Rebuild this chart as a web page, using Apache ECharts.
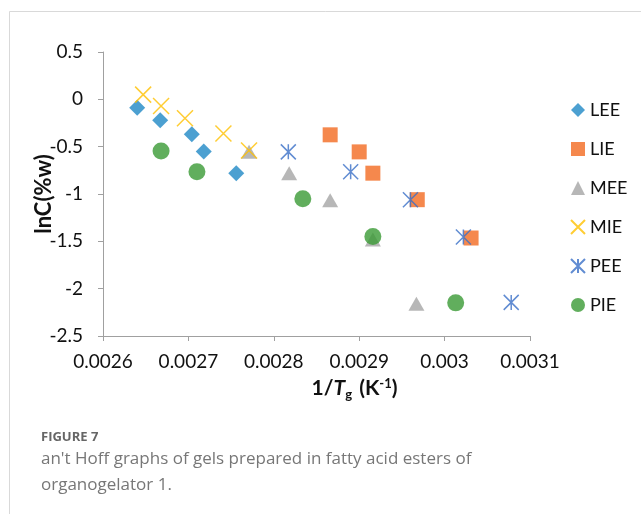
<!DOCTYPE html>
<html>
<head>
<meta charset="utf-8">
<script src="https://cdn.jsdelivr.net/npm/echarts@6/dist/echarts.min.js"></script>
<style>
html,body{margin:0;padding:0;background:#fff;}
#chart{width:641px;height:514px;}
</style>
</head>
<body>
<div id="chart"></div>
<script>
// Data
const seriesNames = ['LEE', 'LIE', 'MEE', 'MIE', 'PEE', 'PIE'];
const LEE_x = [0.00264, 0.002667, 0.002704, 0.002718, 0.002756];
const LEE_y = [-0.09, -0.22, -0.37, -0.55, -0.78];
const LIE_x = [0.002866, 0.0029, 0.002916, 0.002968, 0.003031];
const LIE_y = [-0.375, -0.555, -0.78, -1.06, -1.465];
const MEE_x = [0.002771, 0.002818, 0.002866, 0.002916, 0.002967];
const MEE_y = [-0.555, -0.78, -1.065, -1.48, -2.16];
const MIE_x = [0.002647, 0.002668, 0.002696, 0.002741, 0.002771];
const MIE_y = [0.05, -0.07, -0.2, -0.36, -0.54];
const PEE_x = [0.002817, 0.00289, 0.00296, 0.003022, 0.003078];
const PEE_y = [-0.555, -0.765, -1.06, -1.455, -2.145];
const PIE_x = [0.002668, 0.00271, 0.002834, 0.002916, 0.003013];
const PIE_y = [-0.545, -0.765, -1.05, -1.45, -2.15];
const xTicks = [0.0026, 0.0027, 0.0028, 0.0029, 0.003, 0.0031];
const yTicks = [-2.5, -2, -1.5, -1, -0.5, 0, 0.5];
const captionTitle = 'FIGURE 7';
const captionLines = ["an't Hoff graphs of gels prepared in fatty acid esters of", 'organogelator 1.'];

function pairs(xs, ys) { return xs.map((x, i) => [x, ys[i]]); }
const allX = [LEE_x, LIE_x, MEE_x, MIE_x, PEE_x, PIE_x];
const allY = [LEE_y, LIE_y, MEE_y, MIE_y, PEE_y, PIE_y];

const styles = {
  LEE: { symbol: 'diamond', symbolSize: 16, itemStyle: { color: '#1f88c6' } },
  LIE: { symbol: 'rect', symbolSize: 15, itemStyle: { color: '#f26a21' } },
  MEE: { symbol: 'triangle', symbolSize: [16, 14], itemStyle: { color: '#a5a5a5' } },
  MIE: { symbol: 'path://M0,0L16,16M16,0L0,16', symbolSize: 16, itemStyle: { color: 'rgba(0,0,0,0)', borderColor: '#ffc000', borderWidth: 1.5 } },
  PEE: { symbol: 'path://M0,0L14,14M14,0L0,14M7,0L7,14', symbolSize: 15, itemStyle: { color: 'rgba(0,0,0,0)', borderColor: '#3a6fc7', borderWidth: 1.5 } },
  PIE: { symbol: 'circle', symbolSize: 17, itemStyle: { color: '#3a9a34' } }
};

const FONT = 'Lato';
const chart = echarts.init(document.getElementById('chart'));
chart.setOption({
  animation: false,
  backgroundColor: '#fff',
  grid: { left: 103, right: 111, top: 52, bottom: 178, containLabel: false },
  xAxis: {
    type: 'value', min: xTicks[0], max: xTicks[xTicks.length - 1], interval: 0.0001,
    axisLine: { show: true, onZero: false, lineStyle: { color: '#a0a0a0', width: 1 } },
    axisTick: { show: true, inside: false, length: 5, lineStyle: { color: '#a0a0a0' } },
    splitLine: { show: false },
    axisLabel: { color: '#111', fontFamily: FONT, fontSize: 19, margin: 16,
      formatter: v => String(parseFloat(v.toFixed(4))) },
    name: '{a|1/}{i|T}{sub|g}{a| (K}{sup|-1}{a|)}',
    nameLocation: 'middle', nameGap: 40, nameMoveOverlap: false,
    nameTextStyle: {
      padding: [0, 0, 0, 76],
      rich: {
        a: { fontFamily: FONT, fontSize: 21, fontWeight: 'bold', color: '#111' },
        i: { fontFamily: FONT, fontSize: 21, fontWeight: 'bold', fontStyle: 'italic', color: '#111' },
        sub: { fontFamily: FONT, fontSize: 13, fontWeight: 'bold', color: '#111', padding: [12, 2, 0, 0] },
        sup: { fontFamily: FONT, fontSize: 13, fontWeight: 'bold', color: '#111', padding: [0, 0, 9, 0] }
      }
    }
  },
  yAxis: {
    type: 'value', min: yTicks[0], max: yTicks[yTicks.length - 1], interval: 0.5,
    axisLine: { show: true, onZero: false, lineStyle: { color: '#a0a0a0', width: 1 } },
    axisTick: { show: true, inside: false, length: 5, lineStyle: { color: '#a0a0a0' } },
    splitLine: { show: false },
    axisLabel: { color: '#111', fontFamily: FONT, fontSize: 19, margin: 20 },
    name: 'lnC(%w)', nameLocation: 'middle', nameGap: 48, nameMoveOverlap: false,
    nameTextStyle: { fontFamily: FONT, fontSize: 22, fontWeight: 'bold', color: '#111' }
  },
  legend: {
    orient: 'vertical', left: 565, top: 96, itemWidth: 14, itemHeight: 14, itemGap: 21,
    textStyle: { fontFamily: FONT, fontSize: 18, color: '#111' },
    data: seriesNames
  },
  series: seriesNames.map((n, i) => Object.assign({
    name: n, type: 'scatter', data: pairs(allX[i], allY[i]), z: 2 + i
  }, styles[n])),
  graphic: [
    { type: 'line', shape: { x1: 9.5, y1: 11.5, x2: 641, y2: 11.5 }, style: { stroke: '#d9d9d9', lineWidth: 1 } },
    { type: 'line', shape: { x1: 9.5, y1: 11.5, x2: 9.5, y2: 514 }, style: { stroke: '#d9d9d9', lineWidth: 1 } },
    { type: 'text', left: 41, top: 431, style: { text: captionTitle, fontFamily: 'Open Sans', fontSize: 13, fontWeight: 'bold', fill: '#666' } },
    { type: 'text', left: 41, top: 446, style: { text: captionLines.join('\n'), fontFamily: 'Open Sans', fontSize: 17, lineHeight: 26, fill: '#777' } }
  ]
});
</script>
</body>
</html>
